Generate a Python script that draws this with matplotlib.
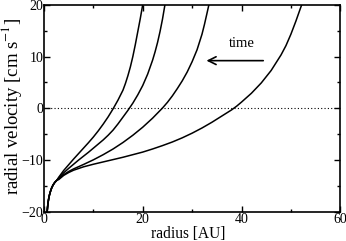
import matplotlib
matplotlib.use("Agg")
import matplotlib.pyplot as plt
from matplotlib.ticker import MultipleLocator

plt.rcParams['font.family'] = ['Liberation Serif', 'DejaVu Serif']
plt.rcParams['mathtext.fontset'] = 'stix'

# shared inner part of the curves (radius AU, velocity cm/s)
base_r = [0.65, 0.72, 0.82, 0.95, 1.1, 1.3, 1.55, 1.85, 2.2, 2.6]
base_v = [-20.0, -19.2, -18.3, -17.5, -16.8, -16.1, -15.4, -14.8, -14.3, -13.9]

curve1_r = [3.0, 4.0, 5.0, 6.0, 7.0, 8.0, 9.0, 10.0, 11.0, 12.0, 13.0, 14.0, 15.0,
            16.0, 16.5, 17.0, 17.5, 18.0, 18.5, 19.0, 19.5, 20.0]
curve1_v = [-13.3, -12.0, -10.9, -9.8, -8.75, -7.7, -6.65, -5.55, -4.35, -3.05, -1.65, -0.1, 1.6,
            3.5, 4.8, 6.3, 8.0, 10.0, 12.3, 14.8, 17.3, 20.0]

curve2_r = [3.0, 4.0, 5.0, 6.0, 7.0, 8.0, 9.0, 10.0, 11.0, 12.0, 13.0, 14.0, 15.0, 16.0,
            17.0, 18.0, 19.0, 20.0, 21.0, 22.0, 22.5, 23.0, 23.5, 24.0, 24.5]
curve2_v = [-13.45, -12.45, -11.6, -10.8, -10.0, -9.25, -8.5, -7.7, -6.9, -6.1, -5.2, -4.2, -3.0, -1.7,
            -0.4, 1.0, 2.6, 4.4, 6.6, 9.3, 10.9, 12.7, 14.8, 17.2, 20.0]

curve3_r = [3.0, 4.0, 5.0, 6.0, 8.0, 10.0, 12.0, 14.0, 16.0, 18.0, 20.0, 22.0, 24.0,
            25.0, 26.0, 27.0, 28.0, 29.0, 30.0, 31.0, 32.0, 32.5, 33.0, 33.4]
curve3_v = [-13.6, -12.8, -12.2, -11.7, -10.85, -9.95, -8.95, -7.85, -6.6, -5.2, -3.65, -1.9, 0.05,
            1.15, 2.4, 3.8, 5.3, 7.0, 9.0, 11.3, 14.3, 16.2, 18.3, 20.0]

curve4_r = [3.0, 4.0, 5.0, 6.0, 8.0, 10.0, 12.0, 14.0, 16.0, 18.0, 20.0, 22.0, 24.0, 26.0,
            28.0, 30.0, 32.0, 34.0, 36.0, 38.0, 39.0, 40.0, 42.0, 44.0, 46.0, 48.0, 49.0,
            50.0, 51.0, 52.0, 52.2]
curve4_v = [-13.75, -12.95, -12.4, -11.95, -11.3, -10.8, -10.35, -9.9, -9.45, -8.95, -8.45, -7.85, -7.2, -6.5,
            -5.7, -4.8, -3.8, -2.7, -1.5, -0.3, 0.4, 1.2, 2.9, 4.9, 7.3, 10.3, 12.1,
            14.3, 16.8, 19.5, 20.0]

curves = [(curve1_r, curve1_v), (curve2_r, curve2_v), (curve3_r, curve3_v), (curve4_r, curve4_v)]

fig = plt.figure(figsize=(3.46, 2.41), dpi=100)
ax = fig.add_axes([0.127, 0.1207, 0.8565, 0.8598])

for r, v in curves:
    ax.plot(base_r + r, base_v + v, color='black', lw=1.1, solid_joinstyle='round')

ax.axhline(0, color='black', lw=0.8, ls=(0, (1, 2)))

ax.annotate('', xy=(32.9, 9.2), xytext=(44.4, 9.2),
            arrowprops=dict(arrowstyle='->', color='black', lw=1.2,
                            mutation_scale=14, shrinkA=0, shrinkB=0))
ax.text(40.0, 12.5, 'time', ha='center', va='center', fontsize=10.5)

ax.set_xlim(0, 60)
ax.set_ylim(-20, 20)
ax.xaxis.set_major_locator(MultipleLocator(20))
ax.xaxis.set_minor_locator(MultipleLocator(10))
ax.yaxis.set_major_locator(MultipleLocator(10))
ax.yaxis.set_minor_locator(MultipleLocator(5))
ax.tick_params(which='both', direction='in', top=True, right=True, labelsize=10, width=1.0, pad=1.0)
ax.tick_params(axis='y', which='both', pad=0.3)
ax.tick_params(which='major', length=4.5)
ax.tick_params(which='minor', length=2.5)
for s in ax.spines.values():
    s.set_linewidth(1.2)

ax.set_xlabel('radius [AU]', fontsize=11.2)
ax.set_ylabel('radial velocity [cm s$^{-1}$]', fontsize=13.5)
ax.xaxis.set_label_coords(0.488, -0.066)
ax.yaxis.set_label_coords(-0.067, 0.51)

fig.savefig('out.png', dpi=100)
